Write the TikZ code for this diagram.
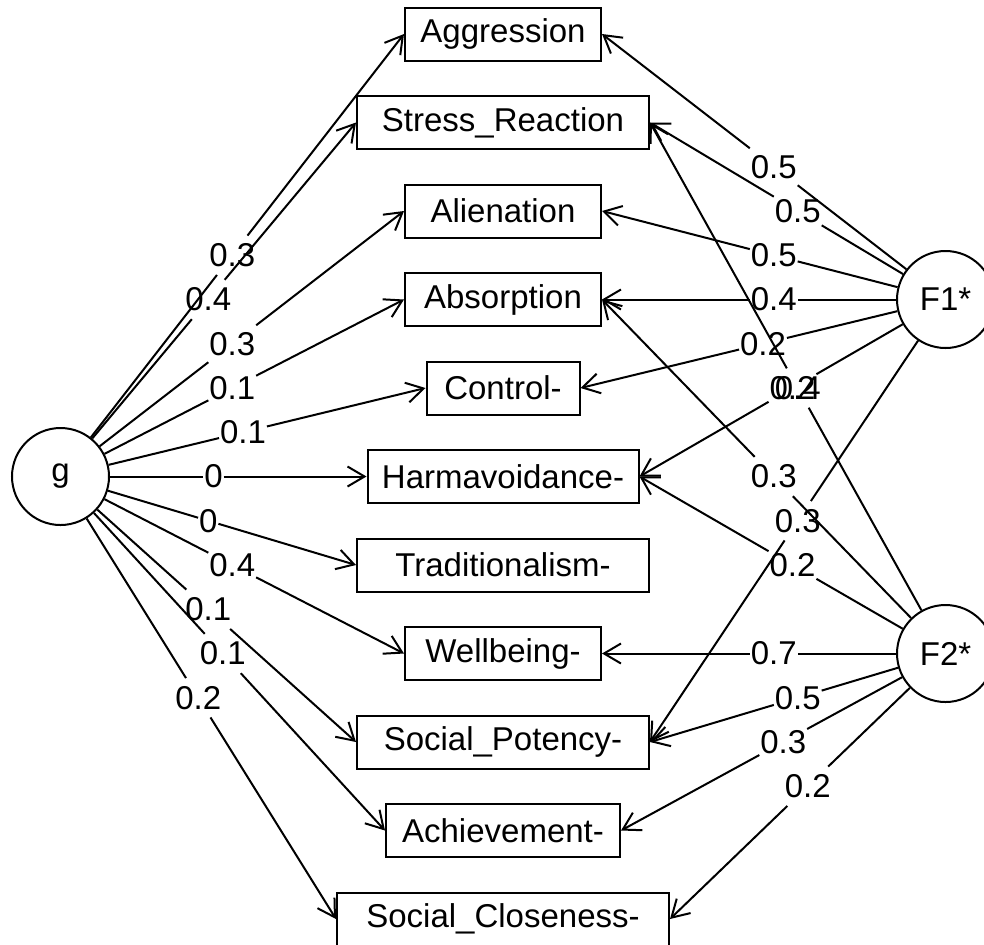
\documentclass[tikz,border=0pt]{standalone}
\usepackage{fontspec}
\setmainfont{Liberation Sans}
\usetikzlibrary{arrows.meta, positioning, calc}

\begin{document}
\begin{tikzpicture}[
node distance=44.25pt,
line width=1pt,
font=\fontsize{16.5pt}{19pt}\selectfont,
var/.style={draw, inner sep=0pt, minimum height=26.5pt},
factor/.style={draw, circle, inner sep=0pt, minimum size=48.5pt},
lbl/.style={inner xsep=0pt, inner ysep=3.5pt},
loading/.style={-{Straight Barb[length=8.5pt, width=10pt]}}
]
\useasboundingbox (0,0) rectangle (492pt,-472pt);

\node (agg) [var, minimum width=98pt] at (251.5pt,-17pt) {Aggression};
\node (stress) [below of=agg, var, minimum width=146pt] {Stress\_Reaction};
\node (alien) [below of=stress, var, minimum width=98pt] {Alienation};
\node (absorp) [below of=alien, var, minimum width=98pt] {Absorption};
\node (control) [below of=absorp, var, minimum width=76.5pt] {Control-};
\node (harm) [below of=control, var, minimum width=135.5pt] {Harmavoidance-};
\node (trad) [below of=harm, var, minimum width=146pt] {Traditionalism-};
\node (well) [below of=trad, var, minimum width=98pt] {Wellbeing-};
\node (potency) [below of=well, var, minimum width=146pt] {Social\_Potency-};
\node (achieve) [below of=potency, var, minimum width=117pt] {Achievement-};
\node (close) [below of=achieve, var, minimum width=166pt] {Social\_Closeness-};

\node (g) [left of=harm, xshift=-177pt, factor] {g};
\node (f1) [right of=absorp, xshift=177pt, factor] {F1*};
\node (f2) [right of=well, xshift=177pt, factor] {F2*};

% general factor
\node[lbl] (gAgg) at ($(g)!.5!(agg.west)$) {0.3}; \draw (g) -- (gAgg); \draw[loading] (gAgg) -- (agg.west);
\node[lbl] (gStress) at ($(g)!.5!(stress.west)$) {0.4}; \draw (g) -- (gStress); \draw[loading] (gStress) -- (stress.west);
\node[lbl] (gAlien) at ($(g)!.5!(alien.west)$) {0.3}; \draw (g) -- (gAlien); \draw[loading] (gAlien) -- (alien.west);
\node[lbl] (gAbsorp) at ($(g)!.5!(absorp.west)$) {0.1}; \draw (g) -- (gAbsorp); \draw[loading] (gAbsorp) -- (absorp.west);
\node[lbl] (gControl) at ($(g)!.5!(control.west)$) {0.1}; \draw (g) -- (gControl); \draw[loading] (gControl) -- (control.west);
\node[lbl] (gHarm) at ($(g)!.5!(harm.west)$) {0}; \draw (g) -- (gHarm); \draw[loading] (gHarm) -- (harm.west);
\node[lbl] (gTrad) at ($(g)!.5!(trad.west)$) {0}; \draw (g) -- (gTrad); \draw[loading] (gTrad) -- (trad.west);
\node[lbl] (gWell) at ($(g)!.5!(well.west)$) {0.4}; \draw (g) -- (gWell); \draw[loading] (gWell) -- (well.west);
\node[lbl] (gPotency) at ($(g)!.5!(potency.west)$) {0.1}; \draw (g) -- (gPotency); \draw[loading] (gPotency) -- (potency.west);
\node[lbl] (gAchieve) at ($(g)!.5!(achieve.west)$) {0.1}; \draw (g) -- (gAchieve); \draw[loading] (gAchieve) -- (achieve.west);
\node[lbl] (gClose) at ($(g)!.5!(close.west)$) {0.2}; \draw (g) -- (gClose); \draw[loading] (gClose) -- (close.west);

% F1*
\node[lbl] (aAgg) at ($(f1)!.5!(agg.east)$) {0.5}; \draw (f1) -- (aAgg); \draw[loading] (aAgg) -- (agg.east);
\node[lbl] (aStress) at ($(f1)!.5!(stress.east)$) {0.5}; \draw (f1) -- (aStress); \draw[loading] (aStress) -- (stress.east);
\node[lbl] (aAlien) at ($(f1)!.5!(alien.east)$) {0.5}; \draw (f1) -- (aAlien); \draw[loading] (aAlien) -- (alien.east);
\node[lbl] (aAbsorp) at ($(f1)!.5!(absorp.east)$) {0.4}; \draw (f1) -- (aAbsorp); \draw[loading] (aAbsorp) -- (absorp.east);
\node[lbl] (aControl) at ($(f1)!.5!(control.east)$) {0.2}; \draw (f1) -- (aControl); \draw[loading] (aControl) -- (control.east);
\node[lbl] (aHarm) at ($(f1)!.5!(harm.east)$) {0.2}; \draw (f1) -- (aHarm); \draw[loading] (aHarm) -- (harm.east);
\node[lbl] (aPotency) at ($(f1)!.5!(potency.east)$) {0.3}; \draw (f1) -- (aPotency); \draw[loading] (aPotency) -- (potency.east);

% F2*
\node[lbl] (bStress) at ($(f2)!.5!(stress.east)$) {0.4}; \draw (f2) -- (bStress); \draw[loading] (bStress) -- (stress.east);
\node[lbl] (bAbsorp) at ($(f2)!.5!(absorp.east)$) {0.3}; \draw (f2) -- (bAbsorp); \draw[loading] (bAbsorp) -- (absorp.east);
\node[lbl] (bHarm) at ($(f2)!.5!(harm.east)$) {0.2}; \draw (f2) -- (bHarm); \draw[loading] (bHarm) -- (harm.east);
\node[lbl] (bWell) at ($(f2)!.5!(well.east)$) {0.7}; \draw (f2) -- (bWell); \draw[loading] (bWell) -- (well.east);
\node[lbl] (bPotency) at ($(f2)!.5!(potency.east)$) {0.5}; \draw (f2) -- (bPotency); \draw[loading] (bPotency) -- (potency.east);
\node[lbl] (bAchieve) at ($(f2)!.5!(achieve.east)$) {0.3}; \draw (f2) -- (bAchieve); \draw[loading] (bAchieve) -- (achieve.east);
\node[lbl] (bClose) at ($(f2)!.5!(close.east)$) {0.2}; \draw (f2) -- (bClose); \draw[loading] (bClose) -- (close.east);

\end{tikzpicture}
\end{document}
